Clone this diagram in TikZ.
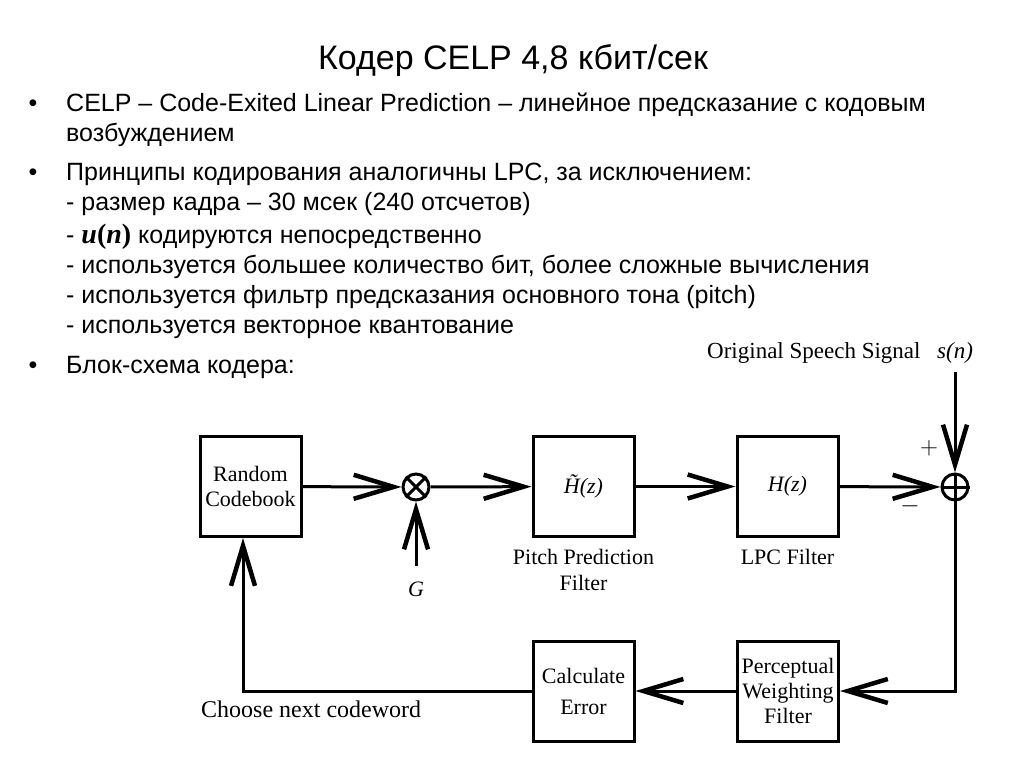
\documentclass[tikz,border=0pt]{standalone}
\usepackage{fontspec}
\setmainfont{Liberation Sans}
\newfontfamily\diagfont{Liberation Serif}
\usetikzlibrary{arrows.meta}

\tikzset{
  blk/.style={draw, line width=3pt, minimum width=101pt, minimum height=100pt, inner sep=0pt,
    font=\diagfont\fontsize{22}{25}\selectfont, align=center},
  junc/.style={draw, circle, line width=3pt, minimum size=26pt, inner sep=0pt},
  sig/.style={line width=3pt, -{Straight Barb[length=40pt,width=24pt,line width=4.5pt]}},
  wire/.style={line width=3pt},
  lbl/.style={font=\diagfont\fontsize{22}{26}\selectfont, align=center, inner sep=0pt},
  txt/.style={anchor=base west, font=\fontsize{25}{26}\selectfont, inner sep=0pt},
  dot/.style={anchor=base, font=\fontsize{25}{26}\selectfont, inner sep=0pt},
}

\begin{document}
\begin{tikzpicture}[x=1pt,y=-1pt]
  \useasboundingbox (0,0) rectangle (1024,768);

  % title and text
  \node[anchor=base, font=\fontsize{34}{36}\selectfont, inner sep=0pt] (title) at (513,70) {Кодер CELP 4,8 кбит/сек};
  \node[dot] (b1) at (33,111) {•};
  \node[txt] (t1) at (66,111) {CELP – Code-Exited Linear Prediction – линейное предсказание с кодовым};
  \node[txt] (t2) at (66,141) {возбуждением};
  \node[dot] (b2) at (33,180) {•};
  \node[txt] (t3) at (66,180) {Принципы кодирования аналогичны LPC, за исключением:};
  \node[txt] (t4) at (66,210) {- размер кадра – 30 мсек (240 отсчетов)};
  \node[txt] (t5) at (66,243) {- {\diagfont\fontsize{28}{28}\selectfont\bfseries\itshape u\upshape(\itshape n\upshape)} кодируются непосредственно};
  \node[txt] (t6) at (66,273) {- используется большее количество бит, более сложные вычисления};
  \node[txt] (t7) at (66,303) {- используется фильтр предсказания основного тона (pitch)};
  \node[txt] (t8) at (66,333) {- используется векторное квантование};
  \node[dot] (b3) at (33,373) {•};
  \node[txt] (t9) at (66,373) {Блок-схема кодера:};

  % blocks
  \node[blk] (cb) at (250.5,486.5) {Random\\Codebook};
  \node[junc] (mul) at (416,487) {};
  \node[blk] (pp) at (583.5,486.5) {\itshape\~H(z)};
  \node[blk] (lpc) at (787.5,486.5) {\itshape H(z)};
  \node[junc] (sum) at (955,487) {};
  \node[blk] (pw) at (788,691) {Perceptual\\Weighting\\Filter};
  \node[blk, font=\diagfont\fontsize{22}{31}\selectfont] (ce) at (583.5,691) {Calculate\\Error};

  \draw[wire] (mul.north east) -- (mul.south west);
  \draw[wire] (mul.north west) -- (mul.south east);
  \draw[wire] (sum.north) -- (sum.south);
  \draw[wire] (sum.west) -- (sum.east);

  % labels
  \node[lbl] (ppl) at (583.5,570) {Pitch Prediction\\Filter};
  \node[lbl] (lpcl) at (787.5,557) {LPC Filter};
  \node[lbl, font=\diagfont\itshape\fontsize{22}{26}\selectfont] (gl) at (416,589) {G};
  \node[lbl, anchor=base west, font=\diagfont\fontsize{23}{26}\selectfont] (osl) at (707,358) {Original Speech Signal};
  \node[lbl, anchor=base west, font=\diagfont\itshape\fontsize{23}{26}\selectfont] (snl) at (937,358) {s(n)};
  \node[lbl, anchor=base west, font=\diagfont\fontsize{24}{26}\selectfont] (cnl) at (201,717) {Choose next codeword};
  \node[font=\fontsize{36}{36}\selectfont, inner sep=0pt] (plus) at (929,448) {$+$};
  \node[font=\fontsize{36}{36}\selectfont, inner sep=0pt] (minus) at (910,506) {$-$};

  % connectors
  \coordinate (gin) at (416,566);
  \coordinate (sin) at (955,372);
  \draw[sig] (cb) -- (mul);
  \draw[sig] (gin) -- (mul);
  \draw[sig] (mul) -- (pp);
  \draw[sig] (pp) -- (lpc);
  \draw[sig] (lpc) -- (sum);
  \draw[sig] (sin) -- (sum);
  \draw[sig] (sum.south) |- (pw);
  \draw[sig] (pw) -- (ce);
  \draw[sig] (ce) -| ([xshift=-7.5pt]cb.south);
\end{tikzpicture}
\end{document}
